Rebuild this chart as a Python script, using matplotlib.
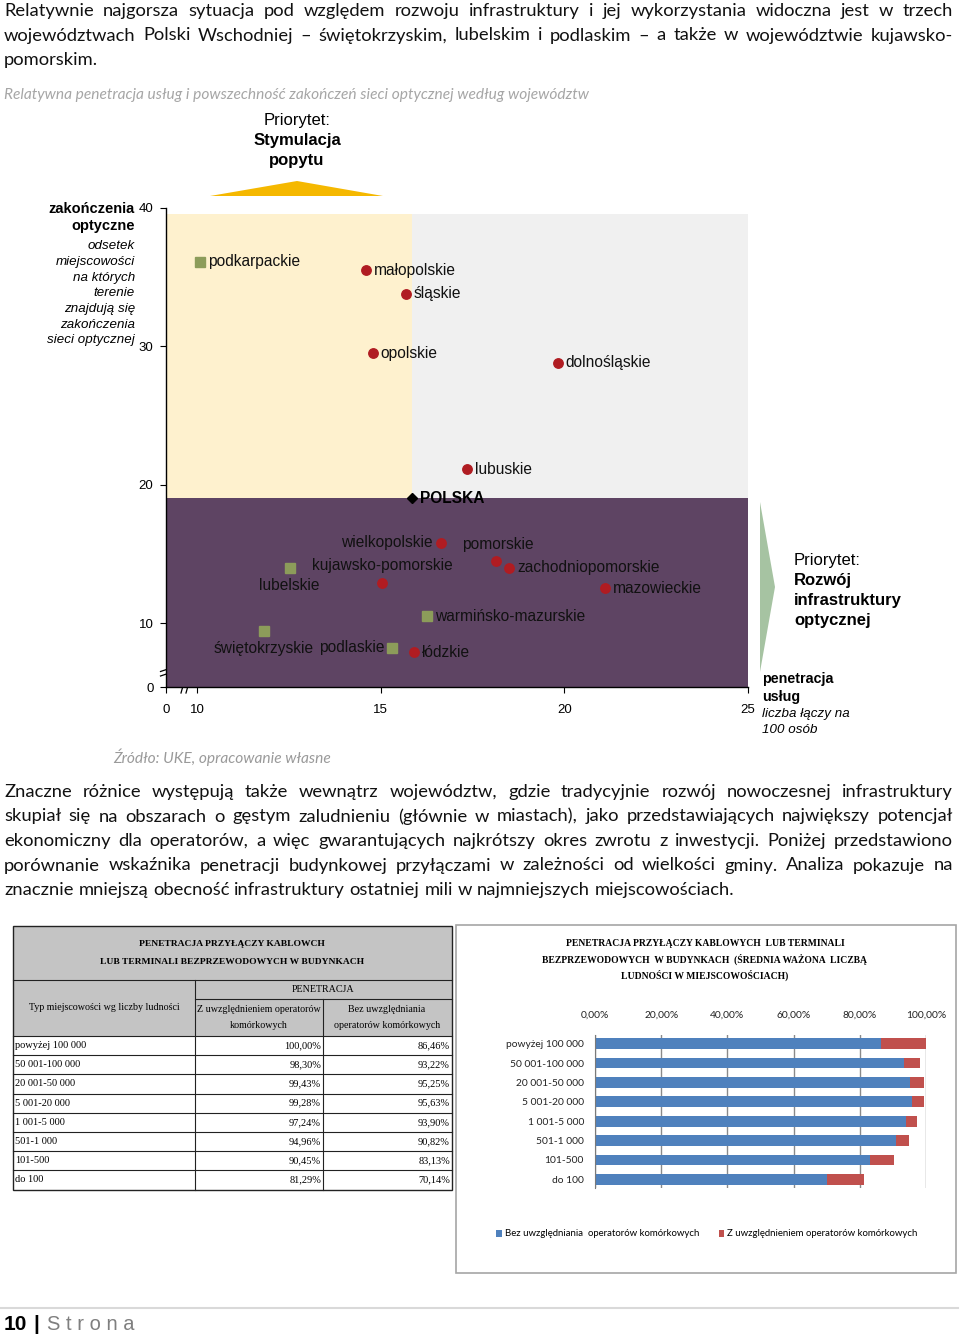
import matplotlib
matplotlib.use("Agg")
import matplotlib.pyplot as plt
from matplotlib.patches import Rectangle, Polygon

W, H = 960, 1338

BODY = ["Lato", "DejaVu Sans"]
ARIAL = ["Liberation Sans", "DejaVu Sans"]
SERIF = ["Liberation Serif", "DejaVu Serif"]

#Scatter data: relative service penetration vs. optical endpoints
wojewodztwa = ["podkarpackie", "małopolskie", "śląskie", "opolskie", "dolnośląskie",
               "lubuskie", "wielkopolskie", "pomorskie", "zachodniopomorskie",
               "kujawsko-pomorskie", "lubelskie", "mazowieckie", "warmińsko-mazurskie",
               "świętokrzyskie", "podlaskie", "łódzkie"]
penetracja = [10.07, 14.60, 15.69, 14.78, 19.82, 17.35, 16.63, 18.13, 18.50,
              15.03, 12.52, 21.11, 16.27, 11.82, 15.32, 15.90]
zakonczenia = [36.1, 35.5, 33.8, 29.5, 28.8, 21.1, 15.8, 14.5, 14.0,
               12.9, 14.0, 12.5, 10.5, 9.45, 8.2, 7.9]
polska_wschodnia = [True, False, False, False, False, False, False, False, False,
                    False, True, False, True, True, True, False]
polska_x, polska_y = 15.86, 19.04

#Table / bar chart data
typy = ["powyżej 100 000", "50 001-100 000", "20 001-50 000", "5 001-20 000",
        "1 001-5 000", "501-1 000", "101-500", "do 100"]
z_komorkowymi = [100.00, 98.30, 99.43, 99.28, 97.24, 94.96, 90.45, 81.29]
bez_komorkowych = [86.46, 93.22, 95.25, 95.63, 93.90, 90.82, 83.13, 70.14]
procent_ticks = [0, 20, 40, 60, 80, 100]

akapit1 = ["Relatywnie najgorsza sytuacja pod względem rozwoju infrastruktury i jej wykorzystania widoczna jest w trzech",
           "województwach Polski Wschodniej – świętokrzyskim, lubelskim i podlaskim – a także w województwie kujawsko-",
           "pomorskim."]
akapit2 = ["Znaczne różnice występują także wewnątrz województw, gdzie tradycyjnie rozwój nowoczesnej infrastruktury",
           "skupiał się na obszarach o gęstym zaludnieniu (głównie w miastach), jako przedstawiających największy potencjał",
           "ekonomiczny dla operatorów, a więc gwarantujących najkrótszy okres zwrotu z inwestycji. Poniżej przedstawiono",
           "porównanie wskaźnika penetracji budynkowej przyłączami w zależności od wielkości gminy. Analiza pokazuje na",
           "znacznie mniejszą obecność infrastruktury ostatniej mili w najmniejszych miejscowościach."]


def pct(v):
    return f"{v:.2f}".replace(".", ",") + "%"


fig = plt.figure(figsize=(W / 100, H / 100), dpi=100)
fig.patch.set_facecolor("white")

#full page axes in pixel units for text, table and decorations
bg = fig.add_axes([0, 0, 1, 1])
bg.set_xlim(0, W)
bg.set_ylim(H, 0)
bg.axis("off")

renderer = fig.canvas.get_renderer()


def px_axes(x0, y0, x1, y1):
    return fig.add_axes([x0 / W, 1 - y1 / H, (x1 - x0) / W, (y1 - y0) / H])


def akapit(linie, y0, dy, size, x0=4, x1=953):
    probe = bg.text(0, 0, "x x", fontsize=size, family=BODY)
    probe2 = bg.text(0, 0, "xx", fontsize=size, family=BODY)
    spacja = probe.get_window_extent(renderer).width - probe2.get_window_extent(renderer).width
    probe.remove()
    probe2.remove()
    for i, linia in enumerate(linie):
        y = y0 + i * dy
        slowa = linia.split(" ")
        teksty = [bg.text(0, y, s, fontsize=size, family=BODY, va="center",
                          color="#111111") for s in slowa]
        szer = [t.get_window_extent(renderer).width for t in teksty]
        if i < len(linie) - 1 and len(slowa) > 1:
            odstep = (x1 - x0 - sum(szer)) / (len(slowa) - 1)
        else:
            odstep = spacja
        x = x0
        for t, w in zip(teksty, szer):
            t.set_x(x)
            x += w + odstep


akapit(akapit1, 11, 24.5, 13.2)
akapit(akapit2, 792, 24.5, 13.2)

bg.text(4, 95, "Relatywna penetracja usług i powszechność zakończeń sieci optycznej według województw",
        fontsize=11.2, family=BODY, style="italic", color="#a6a6a6", va="center")
bg.text(113, 757, "Źródło: UKE, opracowanie własne", fontsize=11.2, family=BODY,
        style="italic", color="#9a9a9a", va="center")

#priority arrows and captions
bg.add_patch(Polygon([(210, 196), (383, 196), (297, 181)], closed=True,
                     facecolor="#F5B800", edgecolor="none"))
bg.add_patch(Polygon([(760, 502), (760, 672), (775, 587)], closed=True,
                     facecolor="#A6C3A2", edgecolor="none"))
bg.text(297, 121, "Priorytet:", fontsize=12, family=ARIAL, ha="center", va="center")
bg.text(297, 141, "Stymulacja", fontsize=12, family=ARIAL, weight="bold", ha="center", va="center")
bg.text(297, 161, "popytu", fontsize=12, family=ARIAL, weight="bold", ha="center", va="center")
bg.text(794, 560, "Priorytet:", fontsize=12, family=ARIAL, va="center")
for yy, s in zip([580, 600, 620], ["Rozwój", "infrastruktury", "optycznej"]):
    bg.text(794, yy, s, fontsize=12, family=ARIAL, weight="bold", va="center")

#axis titles
for yy, s in zip([209, 226], ["zakończenia", "optyczne"]):
    bg.text(135, yy, s, fontsize=10.5, family=ARIAL, weight="bold", ha="right", va="center")
for yy, s in zip([246, 262, 278, 293, 309, 325, 340],
                 ["odsetek", "miejscowości", "na których", "terenie", "znajdują się",
                  "zakończenia", "sieci optycznej"]):
    bg.text(135, yy, s, fontsize=9.6, family=ARIAL, style="italic", ha="right", va="center")
bg.text(762, 679, "penetracja", fontsize=10.3, family=ARIAL, weight="bold", va="center")
bg.text(762, 697, "usług", fontsize=10.3, family=ARIAL, weight="bold", va="center")
bg.text(762, 714, "liczba łączy na", fontsize=9.6, family=ARIAL, style="italic", va="center")
bg.text(762, 730, "100 osób", fontsize=9.6, family=ARIAL, style="italic", va="center")

#scatter plot
ax = px_axes(166, 208, 748, 687)
xlo, xhi, ylo, yhi = 9.155, 25, 5.38, 40
ax.set_xlim(xlo, xhi)
ax.set_ylim(ylo, yhi)
ax.patch.set_alpha(0)
top = 39.6
ax.add_patch(Rectangle((xlo, polska_y), polska_x - xlo, top - polska_y,
                       facecolor="#FEF1CE", edgecolor="none", zorder=0))
ax.add_patch(Rectangle((polska_x, polska_y), xhi - polska_x, top - polska_y,
                       facecolor="#F0F0F0", edgecolor="none", zorder=0))
ax.add_patch(Rectangle((xlo, ylo), xhi - xlo, polska_y - ylo,
                       facecolor="#5E4463", edgecolor="none", zorder=0))
for s in ["top", "right"]:
    ax.spines[s].set_visible(False)
for s in ["left", "bottom"]:
    ax.spines[s].set_color("black")
    ax.spines[s].set_linewidth(1)
    ax.spines[s].set_zorder(5)
ax.set_xticks([xlo, 10, 15, 20, 25], ["0", "10", "15", "20", "25"])
ax.set_yticks([ylo, 10, 20, 30, 40], ["0", "10", "20", "30", "40"])
ax.tick_params(direction="out", length=4, width=0.8, labelsize=9.5, pad=5)
ax.tick_params(axis="x", pad=8)
for lab in ax.get_xticklabels() + ax.get_yticklabels():
    lab.set_family(ARIAL)

etykiety = {
    "wielkopolskie": (-8, 0, "right"),
    "pomorskie": (-34, -16, "left"),
    "kujawsko-pomorskie": (1, -17, "center"),
    "lubelskie": (0, 18, "center"),
    "świętokrzyskie": (0, 18, "center"),
    "podlaskie": (-8, 0, "right"),
}
for name, x, y, wsch in zip(wojewodztwa, penetracja, zakonczenia, polska_wschodnia):
    if wsch:
        ax.plot(x, y, "s", ms=6.5, color="#8C9C5A", zorder=3)
    else:
        ax.plot(x, y, "o", ms=6.8, color="#B01C22", zorder=3)
    dx, dy, ha = etykiety.get(name, (8, 0, "left"))
    ax.annotate(name, (x, y), xytext=(dx * 0.72, -dy * 0.72), textcoords="offset points",
                ha=ha, va="center", fontsize=11.2, family=ARIAL, color="#111111", zorder=4)
ax.plot(polska_x, polska_y, "D", ms=5.5, color="black", zorder=3)
ax.annotate("POLSKA", (polska_x, polska_y), xytext=(8 * 0.72, 0), textcoords="offset points",
            ha="left", va="center", fontsize=11.2, family=ARIAL, weight="bold", zorder=4)

#axis break marks
for seg in [((160.5, 671.5), (174, 667)), ((160.5, 676), (174, 671.5)),
            ((181, 693), (185.5, 677)), ((186, 693), (190.5, 677))]:
    bg.plot([seg[0][0], seg[1][0]], [seg[0][1], seg[1][1]], color="black", lw=0.9, zorder=10)

#table
TX0, TX1, TX2, TX3 = 13, 195, 323, 452
TY0, TY1, TY2, TY3 = 926, 980, 999, 1036
row_h = 19.2
TYB = TY3 + row_h * len(typy)
bg.add_patch(Rectangle((TX0, TY0), TX3 - TX0, TY3 - TY0, facecolor="#C4C4C4", edgecolor="none"))
bg.add_patch(Rectangle((TX0, TY0), TX3 - TX0, TYB - TY0, facecolor="none", edgecolor="#222222", lw=1))
line_kw = dict(color="#222222", lw=0.8)
bg.plot([TX0, TX3], [TY1, TY1], **line_kw)
bg.plot([TX1, TX3], [TY2, TY2], **line_kw)
bg.plot([TX1, TX1], [TY1, TYB], **line_kw)
bg.plot([TX2, TX2], [TY2, TYB], **line_kw)
for i in range(len(typy)):
    bg.plot([TX0, TX3], [TY3 + i * row_h, TY3 + i * row_h], **line_kw)
bg.text(232, 944, "PENETRACJA PRZYŁĄCZY KABLOWCH", fontsize=6.8, family=SERIF,
        weight="bold", ha="center", va="center")
bg.text(232, 962, "LUB TERMINALI BEZPRZEWODOWYCH W BUDYNKACH", fontsize=6.8, family=SERIF,
        weight="bold", ha="center", va="center")
bg.text(104, 1007, "Typ miejscowości wg liczby ludności", fontsize=7.2, family=SERIF,
        ha="center", va="center")
bg.text(323, 989, "PENETRACJA", fontsize=7.2, family=SERIF, ha="center", va="center")
bg.text(259, 1009, "Z uwzględnieniem operatorów", fontsize=7.2, family=SERIF, ha="center", va="center")
bg.text(259, 1026, "komórkowych", fontsize=7.2, family=SERIF, ha="center", va="center")
bg.text(387, 1009, "Bez uwzględniania", fontsize=7.2, family=SERIF, ha="center", va="center")
bg.text(387, 1026, "operatorów komórkowych", fontsize=7.2, family=SERIF, ha="center", va="center")
for i, (t, z, b) in enumerate(zip(typy, z_komorkowymi, bez_komorkowych)):
    yc = TY3 + (i + 0.5) * row_h
    bg.text(TX0 + 2, yc, t, fontsize=7.5, family=SERIF, va="center")
    bg.text(TX2 - 2, yc, pct(z), fontsize=7.5, family=SERIF, ha="right", va="center")
    bg.text(TX3 - 2, yc, pct(b), fontsize=7.5, family=SERIF, ha="right", va="center")

#bar chart panel
bg.add_patch(Rectangle((456, 925), 500, 348, facecolor="none", edgecolor="#A6A6A6", lw=1.2))
for yy, s in zip([943, 959, 975], ["PENETRACJA PRZYŁĄCZY KABLOWYCH  LUB TERMINALI",
                                   "BEZPRZEWODOWYCH  W BUDYNKACH  (ŚREDNIA WAŻONA  LICZBĄ",
                                   "LUDNOŚCI W MIEJSCOWOŚCIACH)"]):
    bg.text(705, yy, s, fontsize=6.9, family=SERIF, weight="bold", ha="center", va="center")

bx = px_axes(595, 1035, 926, 1188)
pos = list(range(len(typy)))
red = [z - b for z, b in zip(z_komorkowymi, bez_komorkowych)]
b1 = bx.barh(pos, bez_komorkowych, height=0.55, color="#4F81BD", zorder=2)
b2 = bx.barh(pos, red, left=bez_komorkowych, height=0.55, color="#C0504D", zorder=2)
bx.set_xlim(0, 100)
bx.set_ylim(len(typy) - 0.55, -0.45)
bx.patch.set_alpha(0)
bx.xaxis.tick_top()
bx.set_xticks(procent_ticks, [pct(v) for v in procent_ticks])
bx.set_yticks(pos, typy)
bx.tick_params(length=0, labelsize=7.4, colors="#222222")
bx.tick_params(axis="x", pad=11)
bx.tick_params(axis="y", pad=8)
for lab in bx.get_xticklabels() + bx.get_yticklabels():
    lab.set_family(BODY)
bx.grid(axis="x", color="#8A8A8A", lw=1)
bx.set_axisbelow(True)
for s in ["top", "right", "bottom"]:
    bx.spines[s].set_visible(False)
bx.spines["left"].set_color("#7A7A7A")
fig.legend([b1, b2], ["Bez uwzględniania  operatorów komórkowych",
                      "Z uwzględnieniem operatorów komórkowych"],
           loc="center", bbox_to_anchor=(707 / W, 1 - 1234 / H), ncol=2, frameon=False,
           prop=dict(family=BODY, size=6.9), handlelength=0.6, handleheight=0.8,
           handletextpad=0.3, columnspacing=2.0)

#footer
bg.plot([0, 958], [1308, 1308], color="#D9D9D9", lw=1.5)
bg.text(4, 1324, "10", fontsize=15, family=ARIAL, weight="bold", va="center")
bg.text(33, 1324, "|", fontsize=15, family=ARIAL, weight="bold", va="center")
bg.text(47, 1324, "S t r o n a", fontsize=14.5, family=ARIAL, color="#7F7F7F", va="center")

fig.savefig("out.png", dpi=100, facecolor="white")
